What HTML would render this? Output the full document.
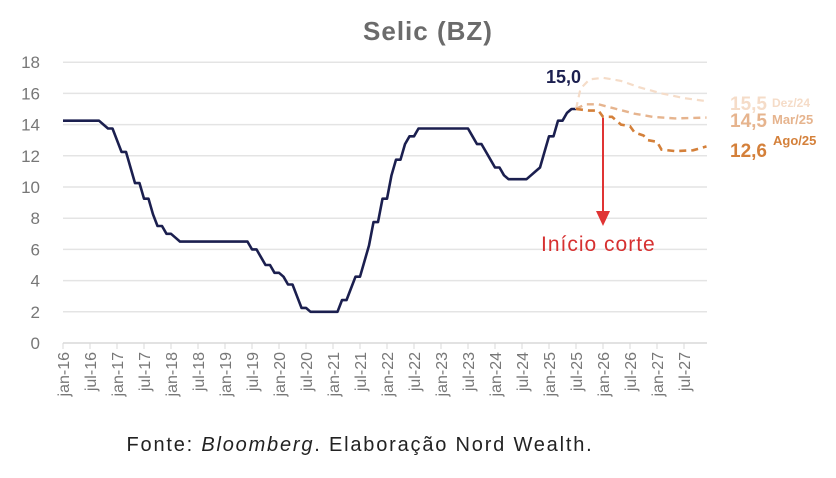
<!DOCTYPE html>
<html><head><meta charset="utf-8"><style>
body{margin:0;background:#fff;width:836px;height:473px;overflow:hidden;font-family:"Liberation Sans",sans-serif}
</style></head><body>
<svg id="s" width="836" height="473" xmlns="http://www.w3.org/2000/svg" font-family="Liberation Sans, sans-serif">
<text x="428" y="40" text-anchor="middle" font-size="26" font-weight="bold" fill="#6b6b6b" letter-spacing="1">Selic (BZ)</text>
<g id="grid"></g>
<g id="ax"></g>
<path id="selic" fill="none" stroke="#1b1f4f" stroke-width="2.6" stroke-linejoin="round"/>
<path id="f1" fill="none" stroke="#f5dcc8" stroke-width="2.2" stroke-dasharray="7,5"/>
<path id="f2" fill="none" stroke="#e6b48e" stroke-width="2.4" stroke-dasharray="7,5"/>
<path id="f3" fill="none" stroke="#d4803a" stroke-width="2.6" stroke-dasharray="7,5"/>
<line x1="603" y1="118" x2="603" y2="212" stroke="#e03434" stroke-width="2"/>
<polygon points="596,211 610,211 603,226" fill="#e03434"/>
<text x="541" y="251" font-size="21" fill="#d63030" letter-spacing="1">Início corte</text>
<text x="546" y="83" font-size="18" font-weight="bold" fill="#1b1f4f">15,0</text>
<text x="730" y="110" font-size="19" font-weight="bold" fill="#f5dcc8">15,5</text>
<text x="772" y="107" font-size="12" font-weight="bold" fill="#f5dcc8">Dez/24</text>
<text x="730" y="127" font-size="19" font-weight="bold" fill="#e6b48e">14,5</text>
<text x="772" y="124" font-size="13" font-weight="bold" fill="#e6b48e">Mar/25</text>
<text x="730" y="157" font-size="19" font-weight="bold" fill="#d4803a">12,6</text>
<text x="773" y="145" font-size="13" font-weight="bold" fill="#d4803a">Ago/25</text>
<text x="360" y="451" text-anchor="middle" font-size="20" fill="#222" letter-spacing="1.8">Fonte: <tspan font-style="italic">Bloomberg</tspan>. Elaboração Nord Wealth.</text>
</svg>
<script>
var X=m=>63+4.5*m, Y=v=>343-15.6*v;
var g=document.getElementById('grid'),a=document.getElementById('ax'),h='';
for(var v=0;v<=18;v+=2){h+='<line x1="63" x2="707" y1="'+Y(v)+'" y2="'+Y(v)+'" stroke="'+(v?'#e4e4e4':'#d8d8d8')+'" stroke-width="1.5"/>';
h+='<text x="40" y="'+(Y(v)+6)+'" text-anchor="end" font-size="17" fill="#777">'+v+'</text>';}
g.innerHTML=h;h='';
for(var i=0;i<24;i++){var x=X(i*6),lab=(i%2?'jul-':'jan-')+(16+Math.floor(i/2));
h+='<line x1="'+x+'" x2="'+x+'" y1="343" y2="349" stroke="#d8d8d8"/>';
h+='<text transform="translate('+(x+6)+',352) rotate(-90)" text-anchor="end" font-size="16" fill="#777">'+lab+'</text>';}
a.innerHTML=h;
var d=[[0,14.25],[8,14.25],[9,14],[10,13.75],[11,13.75],[12,13],[13,12.25],[14,12.25],[15,11.25],[16,10.25],[17,10.25],[18,9.25],[19,9.25],[20,8.25],[21,7.5],[22,7.5],[23,7],[24,7],[25,6.75],[26,6.5],[41,6.5],[42,6],[43,6],[44,5.5],[45,5],[46,5],[47,4.5],[48,4.5],[49,4.25],[50,3.75],[51,3.75],[52,3],[53,2.25],[54,2.25],[55,2],[61,2],[62,2.75],[63,2.75],[64,3.5],[65,4.25],[66,4.25],[67,5.25],[68,6.25],[69,7.75],[70,7.75],[71,9.25],[72,9.25],[73,10.75],[74,11.75],[75,11.75],[76,12.75],[77,13.25],[78,13.25],[79,13.75],[90,13.75],[91,13.25],[92,12.75],[93,12.75],[94,12.25],[95,11.75],[96,11.25],[97,11.25],[98,10.75],[99,10.5],[103,10.5],[104,10.75],[105,11],[106,11.25],[107,12.25],[108,13.25],[109,13.25],[110,14.25],[111,14.25],[112,14.75],[113,15],[114,15]];
function p(arr){return 'M'+arr.map(q=>X(q[0]).toFixed(1)+','+Y(q[1]).toFixed(1)).join('L');}
document.getElementById('selic').setAttribute('d',p(d));
document.getElementById('f1').setAttribute('d',p([[114,15],[115,16.3],[117,16.9],[120,17],[124,16.8],[128,16.4],[133,16],[138,15.7],[143,15.5]]));
document.getElementById('f2').setAttribute('d',p([[114,15],[116,15.3],[119,15.3],[123,15],[127,14.7],[131,14.5],[136,14.4],[143,14.45]]));
document.getElementById('f3').setAttribute('d',p([[114,15],[117,14.9],[119,14.9],[120,14.5],[122,14.5],[124,14],[126,13.9],[127,13.5],[129,13.3],[130,13],[132,12.9],[133,12.4],[136,12.3],[140,12.35],[143,12.6]]));
</script>
</body></html>
